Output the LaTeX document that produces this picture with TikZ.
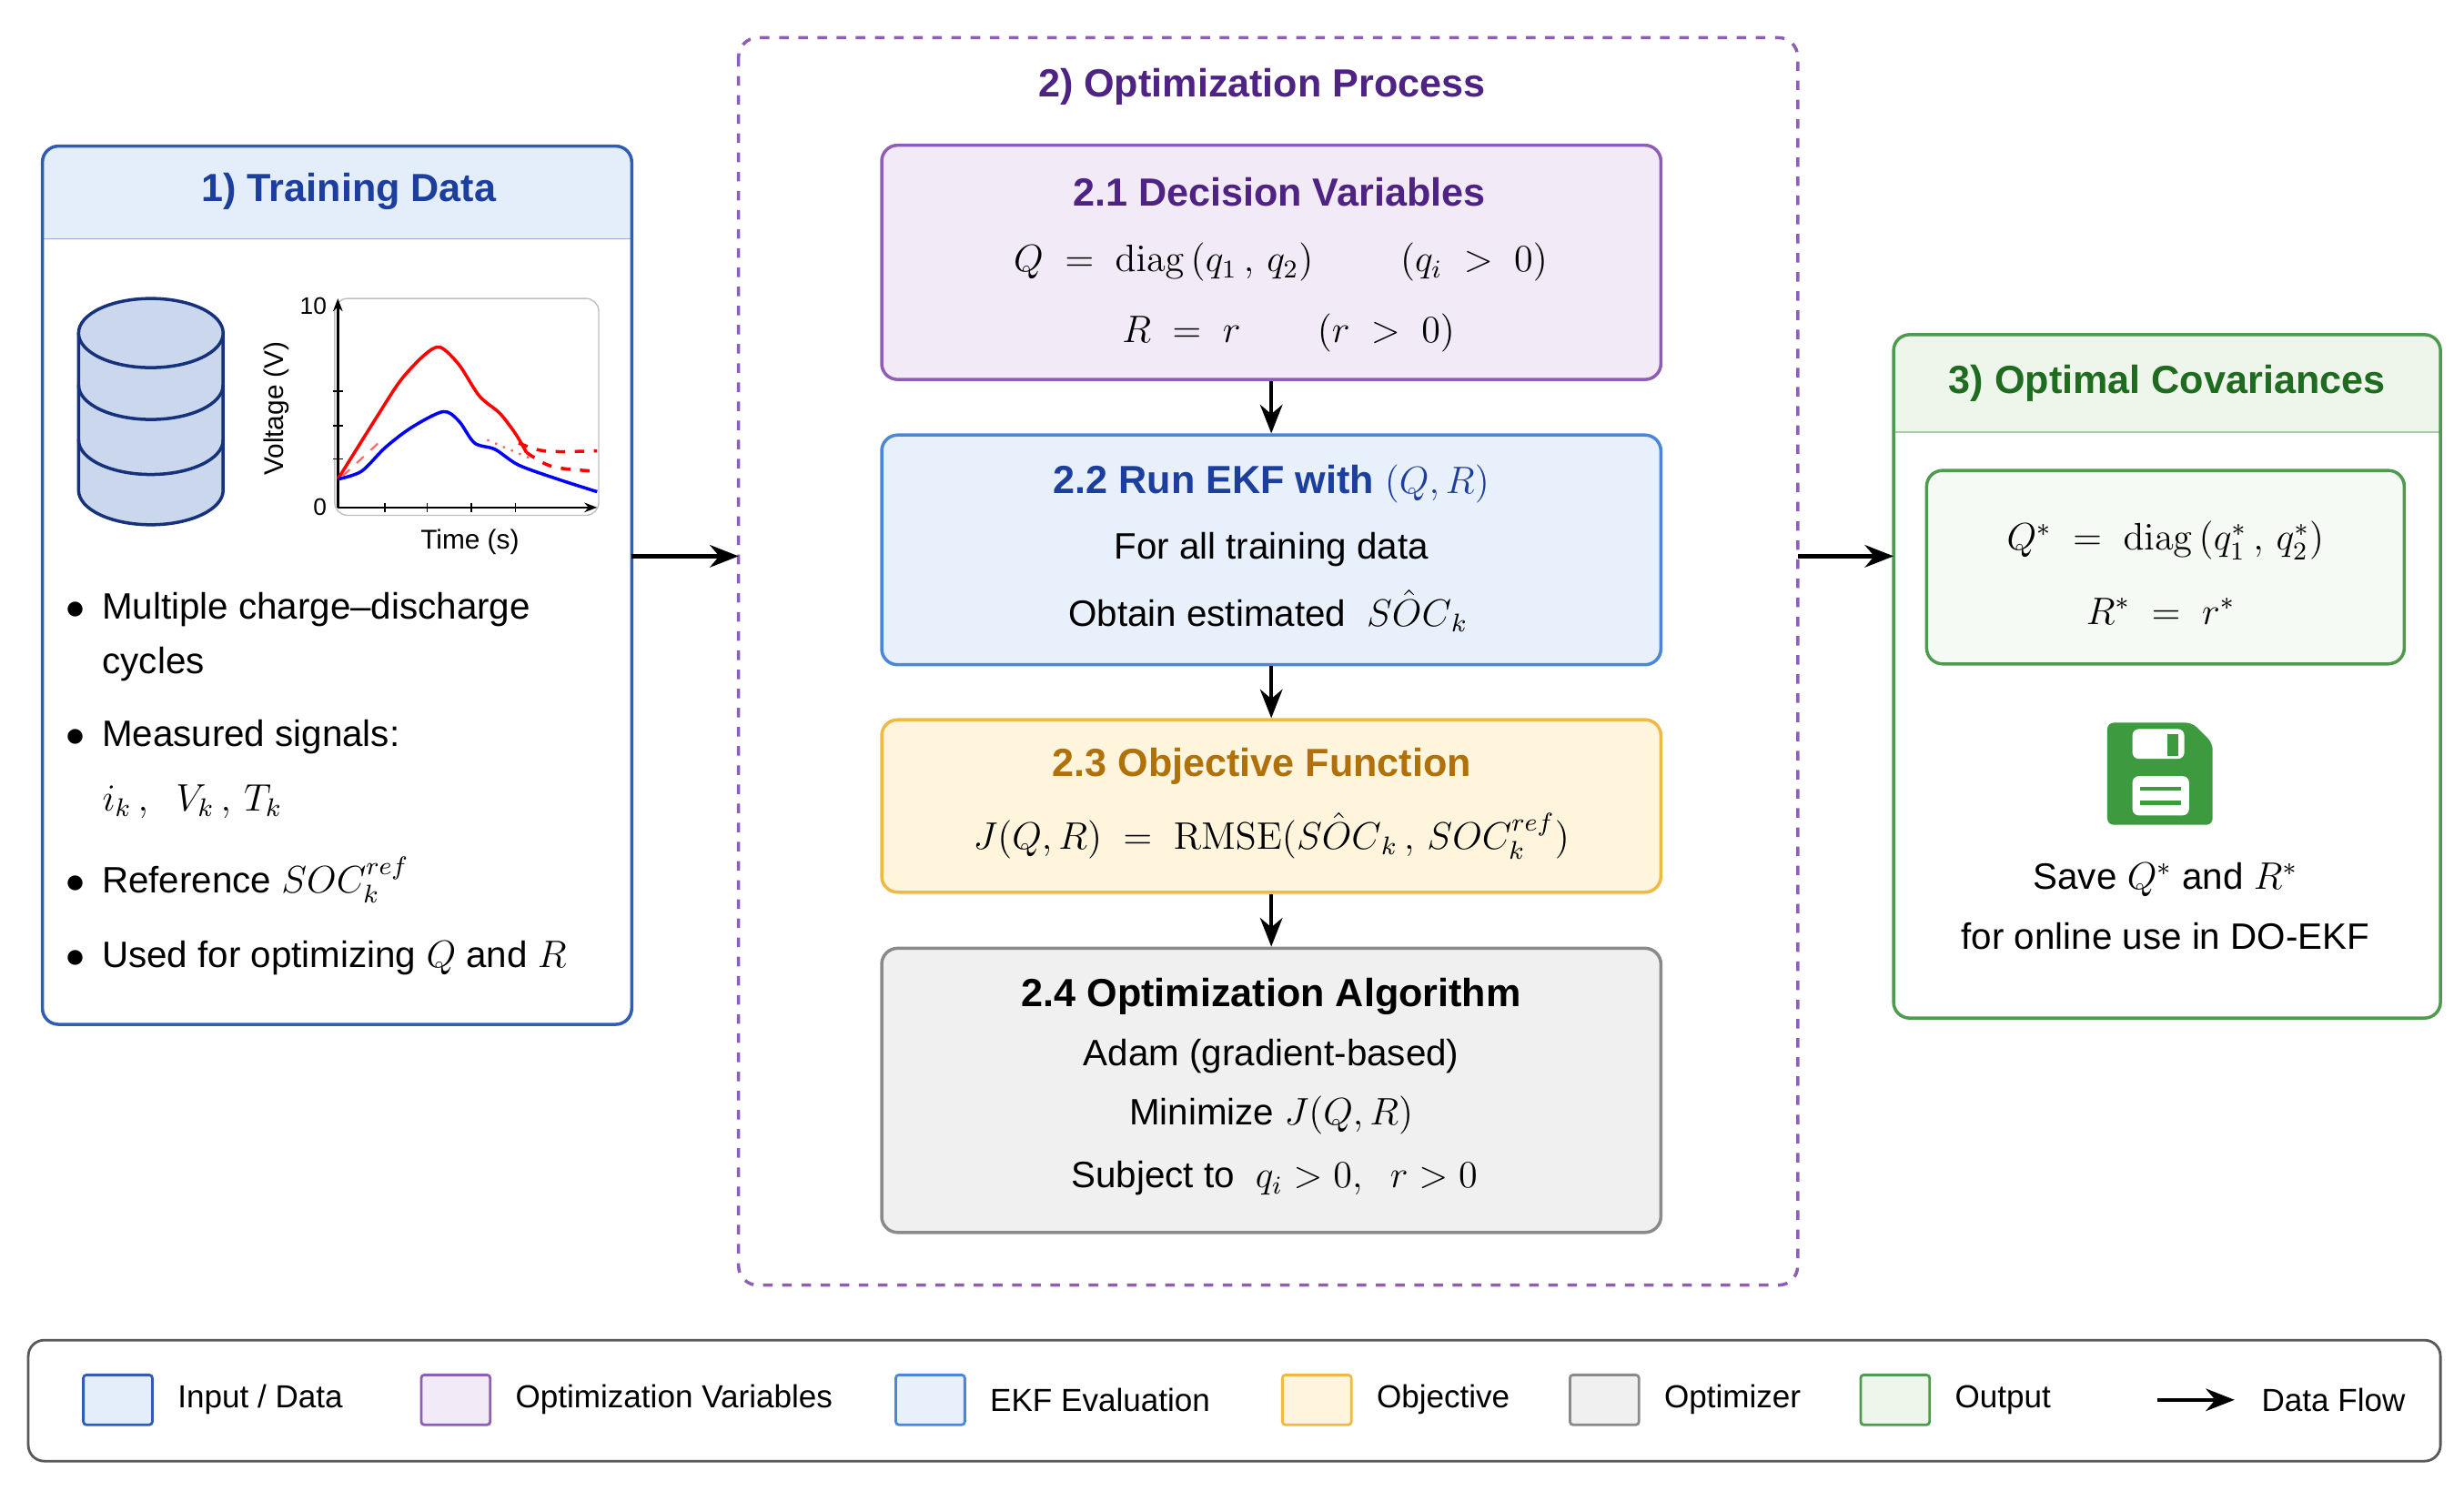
\documentclass[tikz,border=0pt]{standalone}
\usepackage{amsmath}
\usepackage{amssymb}
\usepackage[no-math]{fontspec}
\setmainfont{Liberation Sans}
\usetikzlibrary{arrows.meta,positioning}
\definecolor{inbd}{HTML}{2F5DB5}\definecolor{infl}{HTML}{E4EEFA}
\definecolor{vabd}{HTML}{8E5DB5}\definecolor{vafl}{HTML}{F2EAF7}
\definecolor{ekbd}{HTML}{4A86DA}\definecolor{ekfl}{HTML}{E8F0FC}
\definecolor{obbd}{HTML}{F0B845}\definecolor{obfl}{HTML}{FFF4DC}
\definecolor{opbd}{HTML}{8A8A8A}\definecolor{opfl}{HTML}{F0F0F0}
\definecolor{oubd}{HTML}{4E9A4E}\definecolor{oufl}{HTML}{EEF6EC}
\definecolor{ttin}{HTML}{1C3E9C}\definecolor{ttva}{HTML}{4E2383}
\definecolor{ttob}{HTML}{B0700A}\definecolor{ttou}{HTML}{1F6B1F}
\definecolor{disk}{HTML}{3E9A3E}
\tikzset{
  panel/.style={draw=#1,line width=1pt,rounded corners=5pt},
  step/.style 2 args={panel=#1,fill=#2,minimum width=8.58cm},
  ttl/.style={font=\fontsize{12.3}{15}\selectfont\bfseries},
  txt/.style={font=\fontsize{11.5}{14}\selectfont},
  lgd/.style={font=\fontsize{10}{12}\selectfont},
  flow/.style={-{Stealth[length=9pt,width=7pt]},line width=1.3pt},
  swatch/.style 2 args={draw=#1,fill=#2,line width=0.8pt,minimum width=0.76cm,minimum height=0.55cm,rounded corners=1pt},
}
\begin{document}
\begin{tikzpicture}[x=0.0173cm,y=-0.0173cm]
\useasboundingbox (0,0) rectangle (1568,949);
% training data
\fill[infl,rounded corners=5pt] (27,93) rectangle (402,165);
\fill[white] (28,152) rectangle (401,166);
\draw[inbd!50] (27,152) -- (402,152);
\draw[panel=inbd] (27,93) rectangle (402,652);
\node[ttl,text=ttin] (tdtitle) at (222,122) {1) Training Data};
% database
\begin{scope}[draw=ttin!80!black,line width=1pt,fill=inbd!25]
\filldraw (50,212) -- (50,312) arc[start angle=180,end angle=0,x radius=46,y radius=22] -- (142,212);
\filldraw (96,212) ellipse[x radius=46,y radius=22];
\draw (50,245) arc[start angle=180,end angle=0,x radius=46,y radius=22];
\draw (50,280) arc[start angle=180,end angle=0,x radius=46,y radius=22];
\end{scope}
% chart
\draw[gray!50,rounded corners=4pt] (213,190) rectangle (381,328);
\draw[-{Stealth[length=4pt]},line width=0.7pt] (215,323) -- (215,190);
\draw[-{Stealth[length=4pt]},line width=0.7pt] (215,323) -- (380,323);
\foreach \x in {245,272,300,328} \draw (\x,320) -- (\x,326);
\foreach \y in {249,271,292} \draw (212,\y) -- (218,\y);
\node[font=\fontsize{7.5}{8}\selectfont,left] (ytop) at (215,195) {10};
\node[font=\fontsize{7.5}{8}\selectfont,left] (ybot) at (215,323) {0};
\node[font=\fontsize{8.5}{9}\selectfont,rotate=90] (ylab) at (176,260) {Voltage (V)};
\node[font=\fontsize{8.5}{9}\selectfont] (xlab) at (299,345) {Time (s)};
\draw[red,line width=1pt] plot[smooth] coordinates {(215,305) (240,265) (255,242) (270,226) (280,221) (292,232) (305,252) (318,263) (328,276) (335,288)};
\draw[red,line width=1pt,dashed] (335,288) .. controls (350,298) .. (380,300);
\draw[red,line width=1pt,dashed] (330,282) .. controls (345,288) .. (380,287);
\draw[red!60,dashed,line width=0.6pt] (218,303) -- (244,279);
\draw[red!60,dotted,line width=0.7pt] (310,280) -- (338,292);
\draw[blue,line width=1pt] plot[smooth] coordinates {(215,305) (230,300) (245,285) (262,272) (282,262) (292,268) (302,282) (315,286) (330,296) (355,305) (380,313)};
% bullets
\foreach \yy/\tt in {388/{Multiple charge--discharge},469/{Measured signals:},560/{Reference $SOC_k^{ref}$},610/{Used for optimizing $Q$ and $R$}}
  \node[txt,anchor=west] at (35,\yy) {$\bullet$\hspace{0.45em}\tt};
\node[txt,anchor=west] (cyc) at (58,423) {cycles};
\node[txt,anchor=west] (sig) at (58,510) {$i_k\,,\;\; V_k\,,\, T_k$};
% optimization process
\draw[vabd,dashed,line width=1pt,rounded corners=6pt] (470,24) rectangle (1144,818);
\node[ttl,text=ttva] (optitle) at (803,55) {2) Optimization Process};
\node[step={vabd}{vafl},minimum height=2.58cm,align=center] (dv) at (809,167) {};
\node[ttl,text=ttva] at (814,122) {2.1 Decision Variables};
\node[txt] at (815,167) {$\large Q\;=\;\mathrm{diag}\,(q_1\,,\,q_2)\qquad\;(q_i\;>\;0)$};
\node[txt] at (820,212) {$\large R\;=\;r\qquad(r\;>\;0)$};
\node[step={ekbd}{ekfl},minimum height=2.53cm] (ekf) at (809,350) {};
\node[ttl,text=ttin] at (809,308) {2.2 Run EKF with $(Q,R)$};
\node[txt] at (809,350) {For all training data};
\node[txt] at (807,389) {Obtain estimated $\;\hat{SOC}_k$};
\node[step={obbd}{obfl},minimum height=1.9cm] (obj) at (809,513) {};
\node[ttl,text=ttob] at (803,488) {2.3 Objective Function};
\node[txt] at (809,532) {$J(Q,R)\;=\;\mathrm{RMSE}(\hat{SOC}_k\,,\,SOC_k^{ref})$};
\node[step={opbd}{opfl},minimum height=3.13cm] (alg) at (809,694) {};
\node[ttl] at (809,634) {2.4 Optimization Algorithm};
\node[txt] at (809,672) {Adam (gradient-based)};
\node[txt] at (809,710) {Minimize $J(Q,R)$};
\node[txt] at (811,750) {Subject to $\;q_i>0,\;\;r>0$};
\draw[flow] (dv) -- (ekf);
\draw[flow] (ekf) -- (obj);
\draw[flow] (obj) -- (alg);
% output
\fill[oufl,rounded corners=5pt] (1205,213) rectangle (1553,285);
\fill[white] (1206,275) rectangle (1552,286);
\draw[oubd!50] (1205,275) -- (1553,275);
\draw[panel=oubd] (1205,213) rectangle (1553,648);
\node[ttl,text=ttou] (outtitle) at (1379,244) {3) Optimal Covariances};
\node[panel=oubd,fill=oufl!60,minimum width=5.26cm,minimum height=2.13cm] (opt) at (1378,361) {};
\node[txt] at (1378,344) {$\large Q^*\;=\;\mathrm{diag}\,(q_1^*\,,\,q_2^*)$};
\node[txt] at (1375,389) {$\large R^*\;=\;r^*$};
\fill[disk,rounded corners=2pt] (1341,460) -- (1395,460) -- (1408,473) -- (1408,525) -- (1341,525) -- cycle;
\fill[white,rounded corners=2pt] (1357,464) rectangle (1390,483);
\fill[disk] (1379,467) rectangle (1386,481);
\fill[white,rounded corners=2pt] (1357,494) rectangle (1393,519);
\draw[disk,line width=1.2pt] (1362,502) -- (1388,502) (1362,511) -- (1388,511);
\node[txt] (save) at (1378,560) {Save $Q^*$ and $R^*$};
\node[txt] (use) at (1378,596) {for online use in DO-EKF};
% flows between panels
\coordinate (tdr) at (402,354); \coordinate (opl) at (470,354);
\coordinate (opr) at (1144,354); \coordinate (oul) at (1205,354);
\draw[flow] (tdr) -- (opl);
\draw[flow] (opr) -- (oul);
% legend
\draw[gray!70!black,line width=0.8pt,rounded corners=5pt] (18,853) rectangle (1553,930);
\foreach \xx/\bd/\fl/\lab in {75/inbd/infl/{Input / Data},290/vabd/vafl/{Optimization Variables},592/ekbd/ekfl/{EKF Evaluation},838/obbd/obfl/{Objective},1021/opbd/opfl/{Optimizer},1206/oubd/oufl/{Output}}
  \node[swatch={\bd}{\fl},label={[lgd,xshift=4pt]right:\lab}] at (\xx,891) {};
\coordinate (lgs) at (1373,891); \coordinate (lge) at (1422,891);
\draw[flow,line width=1.2pt] (lgs) -- (lge);
\node[lgd,anchor=west] (lgflow) at (1432,891) {Data Flow};
\end{tikzpicture}
\end{document}
